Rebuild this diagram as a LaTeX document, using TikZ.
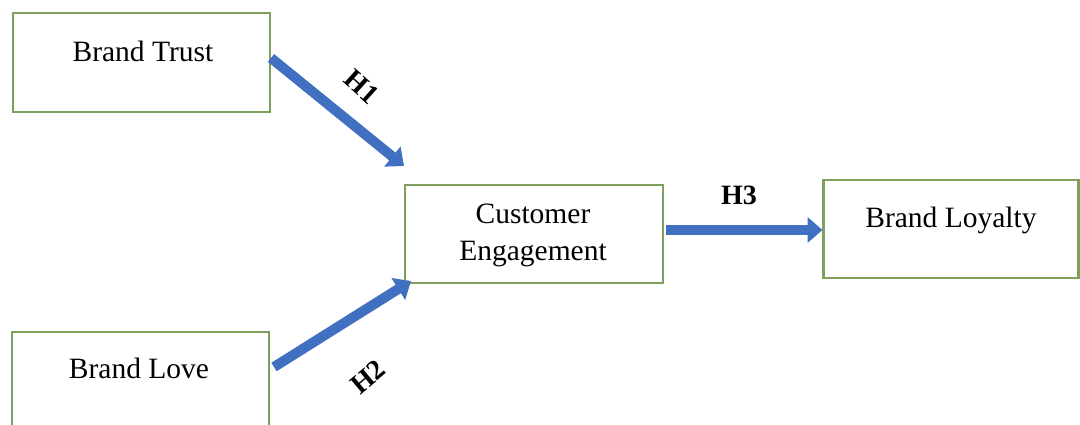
\documentclass[tikz,border=0pt]{standalone}
\usepackage{fontspec}
\setmainfont{Liberation Serif}
\usetikzlibrary{arrows.meta,calc}
\definecolor{boxgreen}{HTML}{7FA05C}
\definecolor{arrowblue}{HTML}{416FC2}
\tikzset{
  box/.style={draw=boxgreen, line width=2.4pt, fill=white, rectangle,
    inner sep=0pt, outer sep=0pt},
  boxtext/.style={anchor=base, inner sep=0pt, font=\fontsize{29.5}{35}\selectfont},
  hyp/.style={inner sep=0pt, font=\bfseries\fontsize{28}{32}\selectfont},
  link/.style={draw=arrowblue, line width=10pt,
    -{Triangle[width=25pt,length=15pt,fill=arrowblue]}},
}
\begin{document}
\begin{tikzpicture}[x=1pt,y=-1pt]
  \useasboundingbox (0,0) rectangle (1080,425);
  \clip (0,0) rectangle (1080,425);

  % boxes
  \node[box, minimum width=257pt, minimum height=99pt] (bt)  at (141.5,62.5) {};
  \node[box, minimum width=257pt, minimum height=98pt] (bl)  at (140.5,381) {};
  \node[box, minimum width=258pt, minimum height=98pt] (ce)  at (534,234) {};
  \node[box, minimum width=255pt, minimum height=98pt] (bly) at (951,229) {};

  % box texts
  \node[boxtext] (btText)  at (143,62)  {Brand Trust};
  \node[boxtext] (blText)  at (139,378) {Brand Love};
  \node[boxtext] (ceText1) at (533,223) {Customer};
  \node[boxtext] (ceText2) at (533,260) {Engagement};
  \node[boxtext] (blyText) at (951,227) {Brand Loyalty};

  % hypothesis arrows
  \draw[link] ($(bt.east)+(1,-4.5)$) -- ($(ce.north west)+(-1,-19)$);
  \draw[link] ($(bl.east)+(5,-14)$) -- ($(ce.south west)+(6,-2)$);
  \draw[link] ($(ce.east)+(3,-4)$) -- ($(bly.west)+(-1,1)$);

  % hypothesis labels
  \node[hyp, rotate=-42] (h1) at (362,87)  {H1};
  \node[hyp, rotate=40]  (h2) at (368,377) {H2};
  \node[hyp]             (h3) at (739,195) {H3};
\end{tikzpicture}
\end{document}
